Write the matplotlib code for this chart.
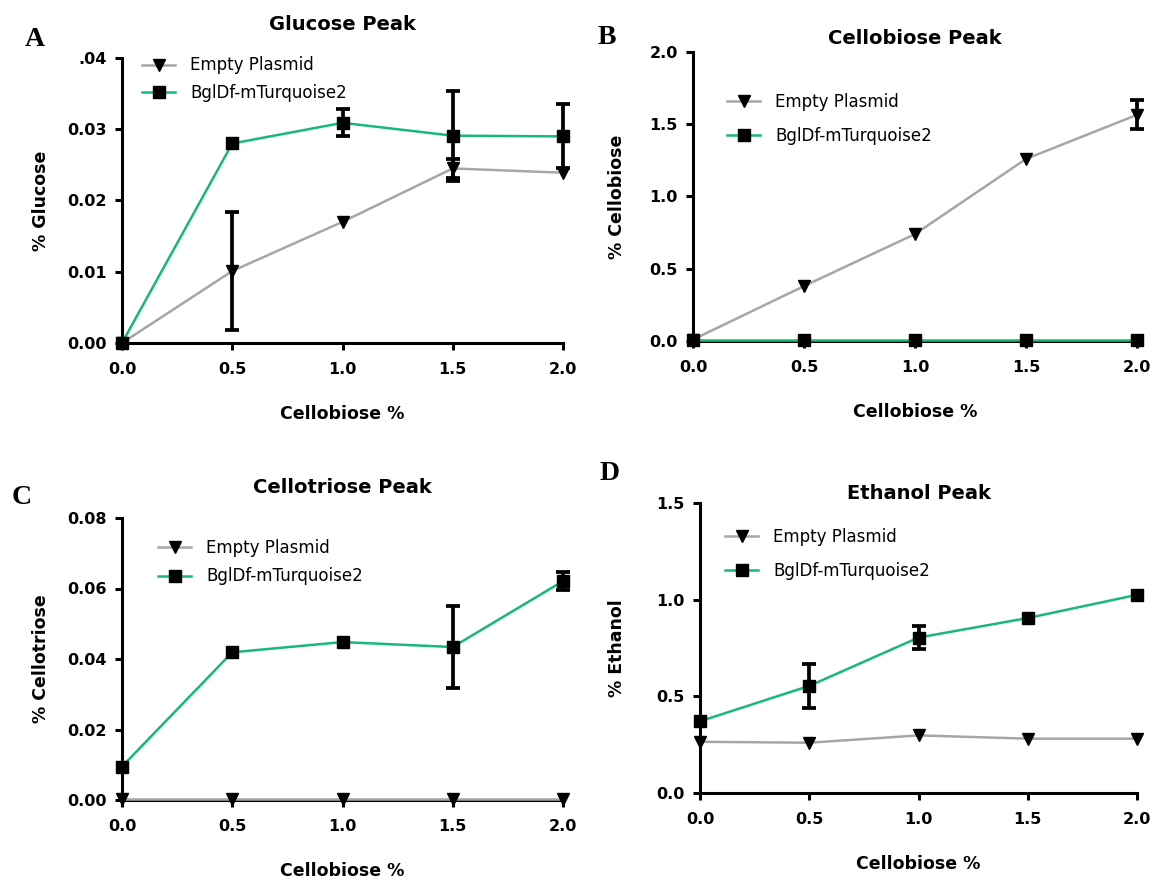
import numpy as np
import matplotlib
matplotlib.use("Agg")
import matplotlib.pyplot as plt

W, H = 1152, 880
GREEN = "#17b978"
GREY = "#a6a6a6"

conc = [0.0, 0.5, 1.0, 1.5, 2.0]
labels = ["Empty Plasmid", "BglDf-mTurquoise2"]

# glucose peak
glc_empty = [0.0, 0.0101, 0.0170, 0.0245, 0.0239]
glc_empty_err = [0.0, 0.0083, 0.0, 0.0013, 0.0]
glc_bgl = [0.0, 0.0280, 0.0309, 0.0291, 0.0290]
glc_bgl_err = [0.0, 0.0, 0.0019, 0.0063, 0.0045]

# cellobiose peak
cb_empty = [0.01, 0.38, 0.74, 1.26, 1.565]
cb_empty_err = [0.0, 0.0, 0.0, 0.0, 0.10]
cb_bgl = [0.005, 0.005, 0.005, 0.005, 0.005]
cb_bgl_err = [0.0, 0.0, 0.0, 0.0, 0.0]

# cellotriose peak
ct_empty = [0.0003, 0.0003, 0.0003, 0.0003, 0.0003]
ct_empty_err = [0.0, 0.0, 0.0, 0.0, 0.0]
ct_bgl = [0.0095, 0.0419, 0.0448, 0.0434, 0.0621]
ct_bgl_err = [0.0, 0.0, 0.0, 0.0115, 0.0026]

# ethanol peak
eth_empty = [0.265, 0.260, 0.298, 0.281, 0.281]
eth_empty_err = [0.0, 0.0, 0.0, 0.0, 0.0]
eth_bgl = [0.371, 0.554, 0.804, 0.905, 1.025]
eth_bgl_err = [0.0, 0.115, 0.060, 0.0, 0.0]


def box(l, r, t, b):
    return [l/W, 1-b/H, (r-l)/W, (b-t)/H]


panels = [
    # axes in pixels (l, r, t, b); ty = title centre y; leg = (x, mid y, spacing)
    dict(letter="A", lpos=(35, 40), title="Glucose Peak", box=(122, 563, 58, 343),
         ymax=0.04, yt=[0, 0.01, 0.02, 0.03, 0.04],
         ytl=["0.00", "0.01", "0.02", "0.03", ".04"], ylabel="% Glucose",
         data=(glc_empty, glc_empty_err, glc_bgl, glc_bgl_err),
         ty=25, ylx=41, leg=(142, 79, 0.55)),
    dict(letter="B", lpos=(607, 38), title="Cellobiose Peak", box=(693, 1137, 52, 341),
         ymax=2.0, yt=[0, 0.5, 1.0, 1.5, 2.0],
         ytl=["0.0", "0.5", "1.0", "1.5", "2.0"], ylabel="% Cellobiose",
         data=(cb_empty, cb_empty_err, cb_bgl, cb_bgl_err),
         ty=38, ylx=617, leg=(727, 119, 0.95)),
    dict(letter="C", lpos=(22, 497), title="Cellotriose Peak", box=(122, 563, 518, 800),
         ymax=0.08, yt=[0, 0.02, 0.04, 0.06, 0.08],
         ytl=["0.00", "0.02", "0.04", "0.06", "0.08"], ylabel="% Cellotriose",
         data=(ct_empty, ct_empty_err, ct_bgl, ct_bgl_err),
         ty=487, ylx=41, leg=(158, 562, 0.65)),
    dict(letter="D", lpos=(610, 473), title="Ethanol Peak", box=(700, 1137, 503, 793),
         ymax=1.5, yt=[0, 0.5, 1.0, 1.5],
         ytl=["0.0", "0.5", "1.0", "1.5"], ylabel="% Ethanol",
         data=(eth_empty, eth_empty_err, eth_bgl, eth_bgl_err),
         ty=493, ylx=617, leg=(725, 554, 1.0)),
]

plt.rcParams["font.family"] = ["DejaVu Sans"]
fig = plt.figure(figsize=(W/100, H/100), dpi=100)

for p in panels:
    l, r, t, b = p["box"]
    hgt = b - t
    ax = fig.add_axes(box(l, r, t, b))
    e, e_err, g, g_err = p["data"]
    ax.plot(conc, e, color=GREY, lw=1.8, marker="v", ms=9, mfc="black", mec="black",
            label=labels[0], clip_on=False, zorder=3)
    ax.plot(conc, g, color=GREEN, lw=1.8, marker="s", ms=9, mfc="black", mec="black",
            label=labels[1], clip_on=False, zorder=4)
    for y, err in ((e, e_err), (g, g_err)):
        err = np.array(err)
        m = err > 0
        ax.errorbar(np.array(conc)[m], np.array(y)[m], yerr=err[m], fmt="none",
                    ecolor="black", elinewidth=2.7, capsize=5, capthick=2.7,
                    clip_on=False, zorder=5)
    ax.set_xlim(0, 2.0)
    ax.set_ylim(0, p["ymax"])
    ax.set_xticks(conc)
    ax.set_xticklabels(["0.0", "0.5", "1.0", "1.5", "2.0"])
    ax.set_yticks(p["yt"])
    ax.set_yticklabels(p["ytl"])
    for s in ("top", "right"):
        ax.spines[s].set_visible(False)
    for s in ("left", "bottom"):
        ax.spines[s].set_linewidth(2.2)
    ax.tick_params(width=2.2, length=5, labelsize=11.5, pad=6)
    ax.tick_params(axis="x", pad=9)
    for lab in ax.get_xticklabels() + ax.get_yticklabels():
        lab.set_fontweight("bold")

    ax.set_title(p["title"], fontsize=14, fontweight="bold", pad=0,
                 y=(b - p["ty"])/hgt, va="center")
    ax.set_xlabel("Cellobiose %", fontsize=12.5, fontweight="bold", va="center")
    ax.xaxis.set_label_coords(0.5, -71/hgt)
    ax.set_ylabel(p["ylabel"], fontsize=12.5, fontweight="bold", va="center")
    ax.yaxis.set_label_coords((p["ylx"] - l)/(r - l), 0.5)

    lx, ly, sp = p["leg"]
    ax.legend(loc="center left", bbox_to_anchor=((lx - l)/(r - l), (b - ly)/hgt),
              frameon=False, fontsize=12, borderpad=0, borderaxespad=0,
              handlelength=2.0, handletextpad=0.9, labelspacing=sp)

    fig.text(p["lpos"][0]/W, 1 - p["lpos"][1]/H, p["letter"], fontsize=20,
             fontweight="bold", family="Liberation Serif", ha="center", va="center")

fig.savefig("out.png", dpi=100)
